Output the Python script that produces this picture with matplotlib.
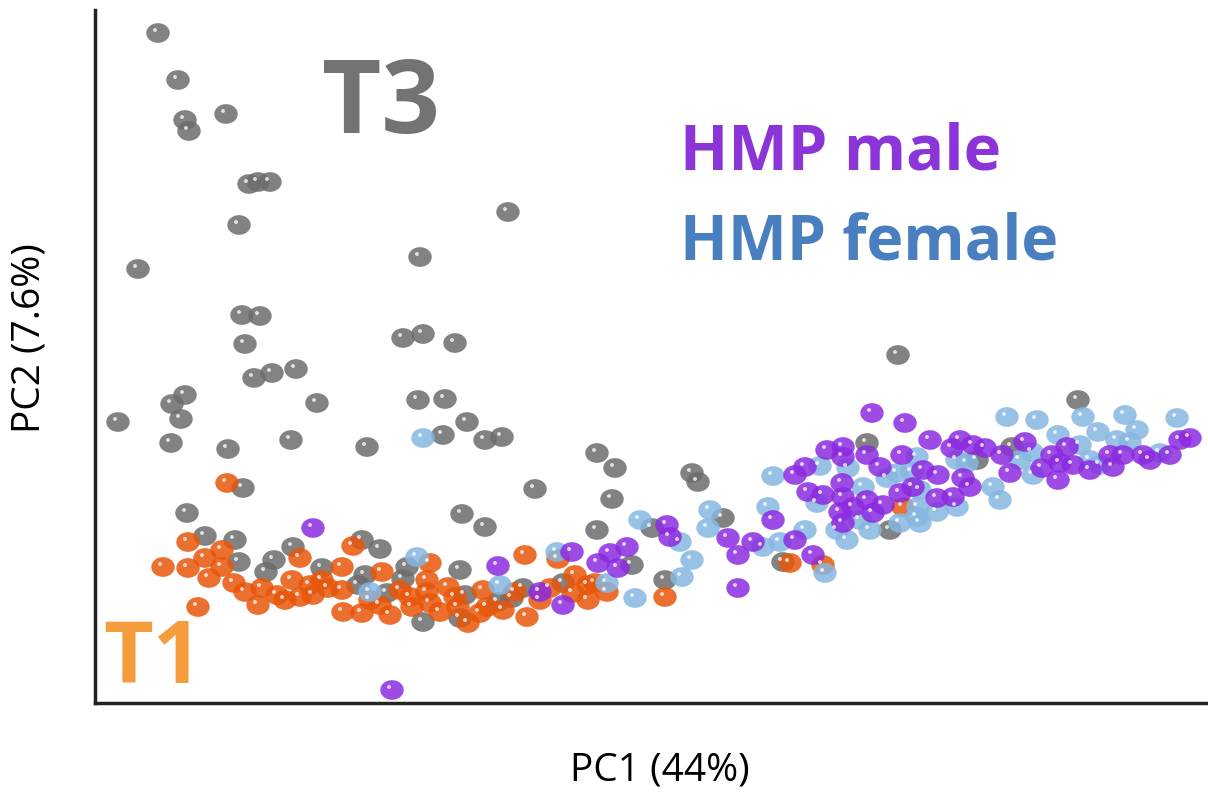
import numpy as np
import matplotlib
matplotlib.use("Agg")
import matplotlib.pyplot as plt
import matplotlib.transforms as mtrans
from matplotlib.path import Path

# PCA scores (arbitrary units) per group
t3_pc1 = [6.3, 8.3, 9.0, 9.4, 13.1, 15.4, 16.3, 17.5, 14.4, 4.3, 41.3, 32.5, 14.7, 16.5, 15.0,
          30.8, 32.8, 36.0, 20.1, 15.9, 17.7, 9.0, 7.7, 8.6, 2.3, 22.2, 32.3, 35.0, 37.2, 34.8,
          39.0, 40.7, 7.6, 19.6, 27.2, 13.3, 50.2, 52.0, 80.3, 98.3, 77.2, 88.2, 91.7, 44.0, 51.7,
          59.7, 60.3, 36.7, 39.0, 50.2, 14.8, 9.2, 11.0, 14.0, 14.4, 17.9, 17.1, 19.8, 22.7, 26.7,
          28.5, 31.2, 36.5, 27.0, 30.8, 26.3, 29.2, 37.0, 42.8, 46.8, 40.3, 41.7, 32.8, 36.5, 55.7,
          62.8, 53.7, 57.0, 68.8, 79.5]
t3_pc2 = [67.0, 62.3, 58.3, 57.2, 58.9, 51.9, 52.1, 52.1, 47.8, 43.4, 49.1, 44.6, 38.8, 38.7, 35.9,
          36.5, 36.9, 36.0, 33.4, 32.5, 33.0, 30.8, 29.9, 28.4, 28.1, 30.0, 30.3, 30.4, 28.1, 26.8,
          26.3, 26.6, 26.0, 26.3, 25.6, 25.4, 25.0, 23.5, 34.8, 30.3, 26.0, 24.3, 25.6, 21.4, 20.4,
          23.0, 22.1, 18.9, 17.6, 17.3, 21.5, 19.0, 16.7, 16.3, 14.1, 14.3, 13.1, 15.6, 13.5, 16.3,
          15.4, 13.6, 13.3, 12.8, 12.4, 11.8, 11.0, 10.8, 11.5, 12.0, 10.1, 10.5, 8.1, 8.5, 17.5,
          18.5, 13.8, 12.3, 14.1, 17.3]

t1_pc1 = [13.2, 9.3, 12.7, 6.8, 9.3, 11.0, 12.7, 11.4, 13.9, 10.3, 20.5, 19.7, 16.7, 18.2, 16.3,
          19.0, 20.5, 21.8, 24.7, 22.7, 23.3, 24.7, 25.8, 33.5, 43.0, 46.3, 28.7, 33.2, 31.5, 33.2,
          35.3, 38.8, 45.5, 49.3, 47.8, 49.3, 24.8, 26.7, 29.5, 31.7, 33.5, 34.5, 36.3, 38.5, 39.2,
          40.8, 43.2, 37.3, 50.0, 51.2, 57.0, 72.8, 69.5, 80.8, 15.0, 21.5, 27.5, 30.5, 36.0, 42.0,
          44.5, 48.0, 28.5]
t1_pc2 = [22.0, 16.1, 15.3, 13.6, 13.5, 14.5, 13.6, 12.5, 12.0, 9.6, 14.5, 12.3, 11.5, 10.8, 9.8,
          10.3, 10.6, 10.8, 13.6, 12.3, 11.5, 11.3, 15.7, 14.0, 14.8, 14.4, 13.1, 12.3, 10.6, 11.1,
          11.6, 11.3, 11.5, 11.8, 11.0, 10.3, 9.1, 9.0, 8.8, 9.6, 10.0, 9.1, 9.6, 9.0, 9.6,
          9.3, 8.6, 8.0, 12.0, 11.1, 10.6, 13.8, 14.0, 19.6, 11.1, 11.8, 10.3, 11.3, 10.6, 11.1,
          10.3, 12.8, 9.8]

male_pc1 = [21.8, 40.3, 47.7, 50.3, 44.5, 46.8, 29.7, 51.5, 52.3, 53.2, 57.2, 57.5, 63.3, 64.3, 65.8,
            70.0, 71.8, 64.3, 70.0, 71.0, 73.2, 74.8, 74.8, 74.7, 71.3, 72.8, 74.8, 74.5, 74.8, 67.8,
            77.7, 81.0, 83.5, 86.5, 85.7, 87.8, 89.0, 77.2, 80.7, 78.5, 82.8, 84.3, 86.8, 87.5, 81.8,
            77.2, 80.5, 84.2, 85.8, 78.8, 75.8, 77.8, 93.0, 90.7, 95.7, 97.2, 94.7, 96.5, 97.8, 101.5,
            102.8, 101.8, 99.5, 104.8, 105.5, 107.5, 108.5, 109.5, 91.5, 96.3]
male_pc2 = [17.5, 13.7, 15.1, 14.0, 11.1, 9.8, 1.3, 15.0, 13.5, 15.6, 17.8, 16.6, 16.5, 14.8, 16.1,
            16.3, 14.8, 11.5, 22.8, 23.6, 25.3, 25.6, 24.6, 22.0, 21.1, 20.8, 20.6, 19.1, 18.0, 18.3,
            29.0, 28.0, 26.3, 26.3, 25.5, 25.8, 25.5, 24.8, 24.8, 23.6, 23.3, 22.8, 22.5, 21.6, 21.6,
            20.3, 21.0, 20.5, 20.6, 19.8, 19.6, 19.0, 26.1, 24.8, 24.8, 25.6, 23.5, 24.0, 23.8, 24.8,
            24.8, 23.6, 23.3, 24.8, 24.3, 24.8, 26.3, 26.5, 23.0, 22.3]

female_pc1 = [32.8, 32.2, 46.2, 27.5, 40.5, 67.8, 72.5, 72.2, 75.2, 67.3, 61.5, 61.3, 54.5, 58.5, 66.8,
              68.5, 71.0, 73.0, 59.7, 58.7, 54.0, 51.2, 82.2, 75.3, 80.2, 81.7, 89.8, 76.8, 79.2, 82.5,
              86.2, 82.3, 84.2, 82.2, 76.5, 80.5, 82.5, 74.2, 77.5, 91.2, 94.2, 98.8, 103.0, 108.2, 96.3,
              100.3, 104.2, 102.2, 103.5, 93.7, 98.5, 99.5, 100.5, 106.5, 93.8, 90.5, 86.2, 87.2, 92.5]
female_pc2 = [26.5, 14.6, 15.1, 11.1, 11.8, 22.7, 23.7, 20.0, 16.3, 19.6, 19.3, 17.5, 18.3, 16.1, 15.6,
              16.1, 17.3, 13.0, 14.3, 12.6, 10.5, 12.0, 24.6, 23.5, 23.0, 23.1, 21.6, 21.6, 22.5, 21.3,
              19.6, 19.6, 19.1, 18.6, 18.3, 18.0, 18.0, 17.3, 17.3, 28.6, 28.3, 28.6, 28.8, 28.5, 26.8,
              27.1, 27.3, 26.3, 26.1, 25.1, 25.8, 24.3, 23.8, 25.0, 22.8, 20.3, 24.3, 24.0, 24.3]

groups = [
    (t3_pc1, t3_pc2, "#6c6c6c"),
    (t1_pc1, t1_pc2, "#e8560a"),
    (female_pc1, female_pc2, "#86b6e2"),
    (male_pc1, male_pc2, "#8b2be0"),
]

fig = plt.figure(figsize=(12.08, 7.94), dpi=100)
ax = fig.add_axes([95 / 1208, 91 / 794, 1 - 95 / 1208, 693 / 794])

# slightly flattened round marker, like the original bubbles
ell = Path.unit_circle().transformed(mtrans.Affine2D().scale(1.0, 0.84))
shine = mtrans.offset_copy(ax.transData, fig=fig, x=-3, y=3, units="dots")

for px, py, col in groups:
    ax.scatter(px, py, s=285, marker=ell, color=col, alpha=0.85, edgecolors="none", zorder=2)
    ax.scatter(px, py, s=8, color="white", alpha=0.75, edgecolors="none",
               transform=shine, zorder=3)

ax.set_xlim(0, 111.3)
ax.set_ylim(0, 69.3)
ax.set_xticks([])
ax.set_yticks([])
for side in ["top", "right"]:
    ax.spines[side].set_visible(False)
for side in ["left", "bottom"]:
    ax.spines[side].set_linewidth(2.5)
    ax.spines[side].set_color("#222222")

font = "Open Sans"
fig.text(660 / 1208, 1 - 780 / 794, "PC1 (44%)", ha="center", va="baseline",
         fontsize=28, family=font, color="black")
fig.text(30 / 1208, 1 - 338 / 794, "PC2 (7.6%)", ha="center", va="center",
         rotation=90, fontsize=28, family=font, color="black")

fig.text(322 / 1208, 1 - 133 / 794, "T3", ha="left", va="baseline", fontsize=74,
         fontweight="bold", family=font, color="#737373")
fig.text(103 / 1208, 1 - 683 / 794, "T1", ha="left", va="baseline", fontsize=62,
         fontweight="bold", family=font, color="#f59c3c")
fig.text(680 / 1208, 1 - 170 / 794, "HMP male", ha="left", va="baseline", fontsize=45.5,
         fontweight="bold", family=font, color="#8b35d8")
fig.text(680 / 1208, 1 - 259 / 794, "HMP female", ha="left", va="baseline", fontsize=45,
         fontweight="bold", family=font, color="#4a7fbf")

fig.savefig("out.png", dpi=100)
